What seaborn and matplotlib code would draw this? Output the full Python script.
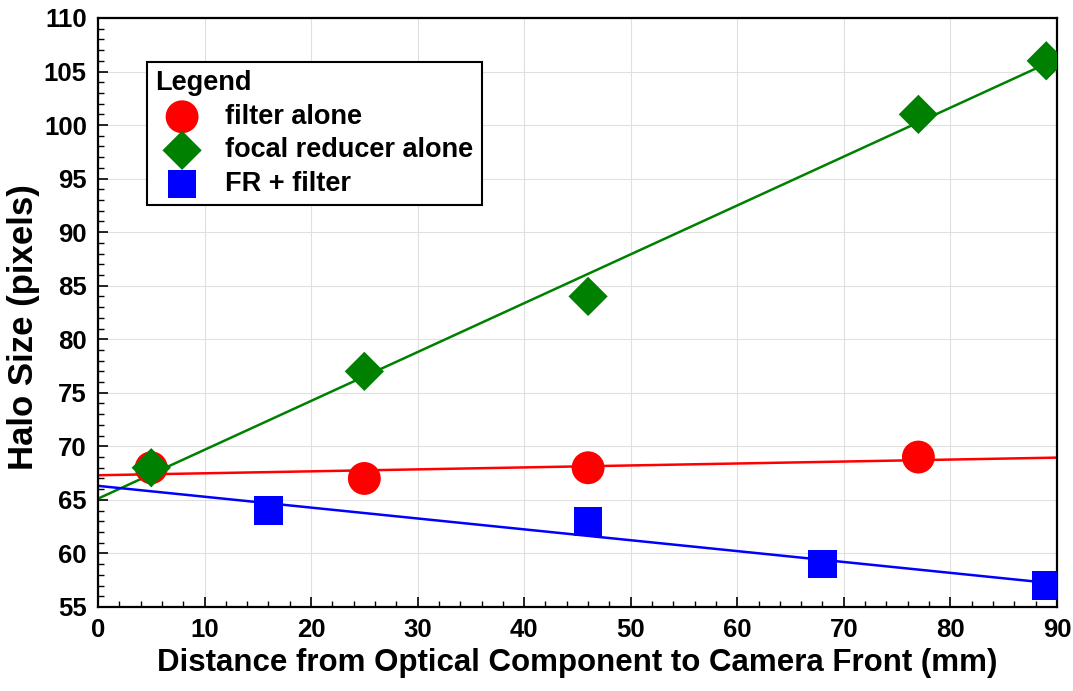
import numpy as np
import pandas as pd
import matplotlib
matplotlib.use("Agg")
import matplotlib.pyplot as plt
import seaborn as sns
from matplotlib.ticker import MultipleLocator

# Data
filter_x = [5, 25, 46, 77]
filter_y = [68, 67, 68, 69]
focal_x = [5, 25, 46, 77, 89]
focal_y = [68, 77, 84, 101, 106]
fr_x = [16, 46, 68, 89]
fr_y = [64, 63, 59, 57]

series_names = ["filter alone", "focal reducer alone", "FR + filter"]
colors = ["#FF0000", "#008000", "#0000FF"]
markers = ["o", "D", "s"]
sizes = [560, 400, 420]

sns.set_theme(style="white")
plt.rcParams['font.family'] = ['Liberation Sans', 'DejaVu Sans']
plt.rcParams['font.weight'] = 'bold'
plt.rcParams['text.color'] = 'black'
plt.rcParams['axes.labelcolor'] = 'black'
plt.rcParams['xtick.color'] = 'black'
plt.rcParams['ytick.color'] = 'black'

fig = plt.figure(figsize=(10.73, 6.91), dpi=100)
ax = fig.add_axes([0.0913, 0.1216, 0.8937, 0.8524])
ax.set_xlim(0, 90)
ax.set_ylim(55, 110)

data = [(filter_x, filter_y), (focal_x, focal_y), (fr_x, fr_y)]
for (xs, ys), name, c, m, s in zip(data, series_names, colors, markers, sizes):
    df = pd.DataFrame({"x": xs, "y": ys})
    sns.regplot(data=df, x="x", y="y", ax=ax, scatter=False, ci=None,
                truncate=False, color=c, line_kws={"lw": 1.8, "zorder": 2})
for (xs, ys), name, c, m, s in zip(data, series_names, colors, markers, sizes):
    df = pd.DataFrame({"x": xs, "y": ys})
    sns.scatterplot(data=df, x="x", y="y", ax=ax, marker=m, s=s, color=c,
                    edgecolor="none", linewidth=0, zorder=3, label=name)

ax.set_xlim(0, 90)
ax.set_ylim(55, 110)
ax.xaxis.set_major_locator(MultipleLocator(10))
ax.xaxis.set_minor_locator(MultipleLocator(2))
ax.yaxis.set_major_locator(MultipleLocator(5))
ax.yaxis.set_minor_locator(MultipleLocator(1))
ax.grid(True, which="major", color="#e0e0e0", lw=0.8, zorder=0)
ax.set_axisbelow(True)
ax.tick_params(axis="both", which="major", direction="in", length=7, width=1.2,
               color="black", labelcolor="black", labelsize=18.5,
               bottom=True, left=True, top=False, right=False, pad=8)
ax.tick_params(axis="both", which="minor", direction="in", length=4, width=1.0,
               color="black", bottom=True, left=True, top=False, right=False)
for lab in ax.get_xticklabels() + ax.get_yticklabels():
    lab.set_fontweight("bold")
for sp in ax.spines.values():
    sp.set_color("black")
    sp.set_linewidth(1.6)

ax.set_xlabel("Distance from Optical Component to Camera Front (mm)", fontsize=22.5,
              fontweight="bold", labelpad=4, color="black")
ax.set_ylabel("Halo Size (pixels)", fontsize=25, fontweight="bold", color="black")
ax.yaxis.set_label_coords(-0.0605, 0.475)

leg = ax.legend(title="Legend", loc="upper left", bbox_to_anchor=(0.051, 0.925),
                borderaxespad=0, fontsize=19.5,
                title_fontproperties={"weight": "bold", "size": 19.5},
                frameon=True, fancybox=False, edgecolor="black", framealpha=1,
                borderpad=0.3, handletextpad=0.6, labelspacing=0.28, markerscale=1.0,
                handlelength=2.0)
leg._legend_box.align = "left"
leg.get_frame().set_linewidth(1.5)
leg.get_title().set_color("black")
for t in leg.get_texts():
    t.set_fontweight("bold")
    t.set_color("black")

fig.savefig("out.png", dpi=100)
